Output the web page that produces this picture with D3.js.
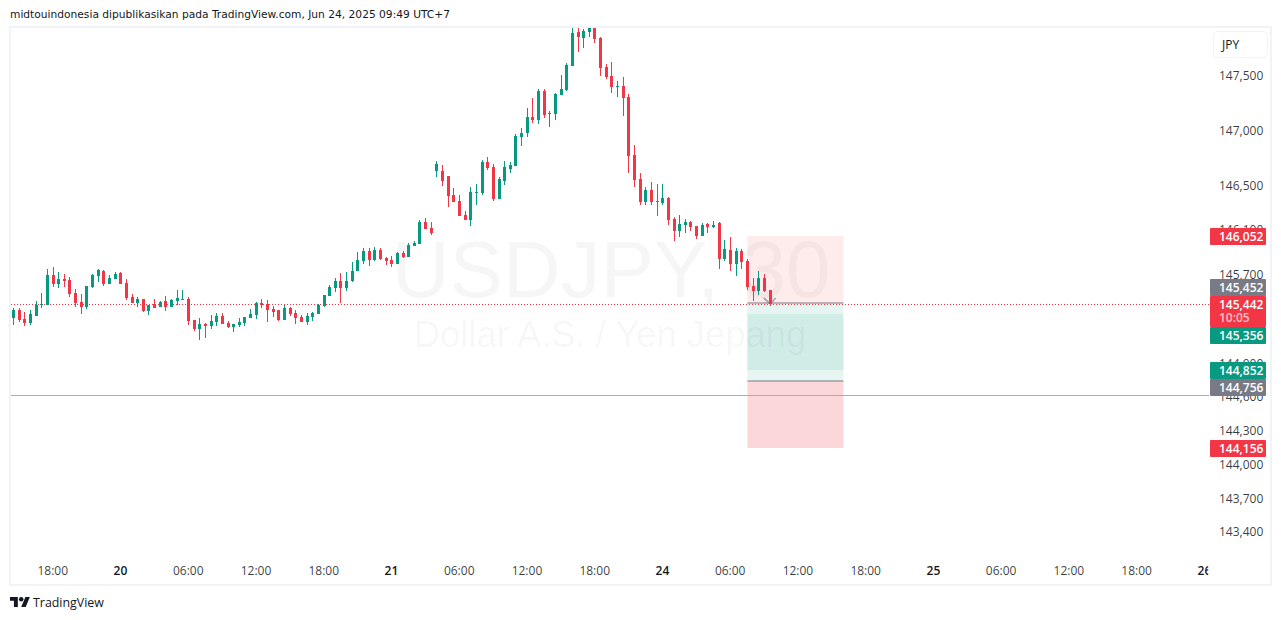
<!DOCTYPE html>
<html>
<head>
<meta charset="utf-8">
<script src="https://cdn.jsdelivr.net/npm/d3@7"></script>
<style>
  html, body { margin: 0; padding: 0; background: #fff; overflow: hidden; }
  svg { display: block; }
  text { font-family: "Open Sans", sans-serif; }
</style>
</head>
<body>
<svg id="chart" width="1281" height="620"></svg>
<script>
// bars are 30 minute candles, index 0 = Jun 19 14:30
const openP = [145322,145394,145313,145277,145340,145439,145439,145709,145628,145673,145664,145547,145466,145421,145601,145700,145745,145628,145673,145727,145637,145511,145457,145493,145385,145448,145421,145475,145421,145475,145484,145493,145304,145223,145268,145250,145286,145340,145277,145241,145259,
  145277,145322,145349,145457,145448,145403,145394,145304,145412,145367,145331,145286,145331,145358,145430,145520,145592,145655,145592,145655,145745,145835,145925,145844,145934,145862,145844,145808,145907,145871,145970,145988,146186,146132,
  146645,146645,146600,146429,146375,146249,146204,146447,146447,146726,146681,146393,146555,146663,146690,146951,146987,147131,147104,147374,147158,147158,147329,147383,147599,147905,147851,147905,147941,147851,147590,147509,147410,147419,147311,146789,146573,146366,146474,146375,146357,146402,146213,146105,146159,146186,146150,146060,146168,146141,146177,145853,145934,145808,145925,145835,145610,145565,145682,145574];
const highP = [145412,145412,145376,145394,145475,145547,145763,145781,145736,145718,145691,145583,145538,145610,145718,145763,145754,145709,145736,145736,145673,145538,145511,145493,145439,145493,145475,145520,145493,145574,145574,145511,145304,145322,145277,145349,145367,145367,145295,145268,145322,
  145331,145403,145466,145493,145484,145430,145394,145439,145421,145394,145349,145367,145376,145448,145529,145619,145682,145727,145736,145826,145916,145952,145952,145961,145952,145871,145880,145916,145925,145997,146015,146204,146222,146186,
  146735,146699,146600,146492,146429,146285,146501,146528,146744,146771,146708,146591,146735,146726,146978,147032,147212,147302,147392,147392,147185,147356,147518,147626,147941,147941,147932,147941,147941,147860,147617,147635,147464,147500,147338,146879,146627,146501,146546,146528,146528,146411,146231,146249,146213,146195,146150,146177,146177,146195,146186,146024,146051,145952,145943,145853,145682,145745,145718,145574];
const lowP = [145259,145286,145250,145259,145340,145412,145439,145601,145592,145601,145511,145421,145358,145403,145592,145646,145610,145628,145673,145628,145484,145457,145421,145376,145349,145412,145421,145385,145421,145439,145484,145259,145205,145124,145142,145223,145250,145268,145232,145196,145241,
  145250,145322,145313,145412,145286,145331,145295,145304,145340,145268,145286,145259,145295,145358,145421,145520,145556,145457,145565,145646,145745,145808,145790,145835,145844,145799,145781,145808,145862,145871,145970,145988,146123,146069,
  146591,146510,146321,146366,146240,146204,146150,146339,146429,146654,146375,146393,146519,146627,146690,146870,146951,147077,147068,147122,147041,147104,147329,147374,147599,147725,147761,147860,147806,147509,147482,147356,147311,147140,146627,146501,146339,146339,146339,146240,146339,146159,146015,146051,146087,146105,146033,146060,146087,146132,145763,145835,145745,145700,145763,145574,145475,145529,145556,145430];
const closeP = [145394,145304,145277,145358,145439,145448,145709,145628,145673,145655,145538,145457,145421,145610,145709,145754,145628,145682,145718,145628,145502,145457,145493,145385,145439,145412,145466,145421,145484,145502,145493,145295,145223,145268,145250,145295,145340,145268,145241,145268,145286,
  145331,145358,145457,145439,145394,145376,145304,145412,145358,145322,145286,145340,145367,145439,145529,145601,145655,145592,145655,145745,145844,145925,145844,145934,145853,145835,145808,145907,145871,145979,145997,146186,146123,146087,
  146708,146555,146420,146366,146240,146204,146456,146456,146726,146672,146393,146573,146681,146699,146960,146987,147131,147104,147374,147149,147167,147338,147392,147608,147896,147860,147914,147941,147842,147581,147500,147410,147419,147302,146780,146564,146366,146474,146366,146366,146402,146204,146105,146168,146186,146141,146060,146159,146141,146159,145853,145943,145808,145925,145826,145601,145565,145682,145565,145442];

const timeTickBars = [7,19,31,43,55,67,79,91,103,115,127,139,151,163,175,187,199,211];
const timeTickLabels = ['18:00','20','06:00','12:00','18:00','21','06:00','12:00','18:00','24','06:00','12:00','18:00','25','06:00','12:00','18:00','26'];
const priceTicks = [147500,147000,146500,146100,145700,145300,144900,144600,144300,144000,143700,143400];

// short position first, then the long one underneath it
const shortPos = {entry: 145452, stop: 146052, target: 144852};
const longPos = {entry: 144756, stop: 144156, target: 145356};
const positionBars = [130, 147];
const lastPrice = 145442;
const lastCountdown = '10:05';
const alertPrice = 144628; // the orange horizontal line

const RED = '#f23645', GREEN = '#089981', GRAY = '#787b86', TXT = '#131722';
const svg = d3.select('#chart');

const x = d3.scaleLinear().domain([0, 134]).range([13.5, 770]);
const yScale = d3.scaleLog().domain([147500, 143400]).range([76.7, 533.2]); // log price scale, ticks fit it better than linear
const y = p => Math.round(yScale(p)); // keep everything on whole pixels like the real canvas

// frame
svg.append('rect').attr('x', 10).attr('y', 27).attr('width', 1261).attr('height', 558)
  .attr('fill', 'none').attr('stroke', '#f0f3fa').attr('stroke-width', 2);

const defs = svg.append('defs');
defs.append('clipPath').attr('id', 'plotClip').append('rect')
  .attr('x', 11).attr('y', 28).attr('width', 1198).attr('height', 556);

const plot = svg.append('g').attr('clip-path', 'url(#plotClip)');

// watermark
plot.append('text').attr('x', 611).attr('y', 297).attr('text-anchor', 'middle')
  .style('font-family', '"Liberation Sans", Arial, sans-serif').style('font-size', '80px')
  .attr('fill', '#131722').attr('fill-opacity', 0.04).text('USDJPY, 30');
plot.append('text').attr('x', 610).attr('y', 347).attr('text-anchor', 'middle')
  .style('font-family', '"Liberation Sans", Arial, sans-serif').style('font-size', '36.4px')
  .attr('fill', '#131722').attr('fill-opacity', 0.04).text('Dollar A.S. / Yen Jepang');

// position tools
function zone(a, b, color, op) {
  plot.append('rect').attr('x', x(positionBars[0])).attr('width', x(positionBars[1]) - x(positionBars[0]))
    .attr('y', y(a)).attr('height', y(b) - y(a)).attr('fill', color).attr('fill-opacity', op);
}
zone(shortPos.stop, shortPos.entry, RED, 0.1);
zone(shortPos.entry, shortPos.target, GREEN, 0.1);
zone(longPos.target, longPos.entry, GREEN, 0.1);
zone(longPos.entry, longPos.stop, RED, 0.2);
[shortPos.entry, longPos.entry].forEach(p => {
  plot.append('line').attr('x1', x(positionBars[0])).attr('x2', x(positionBars[1]))
    .attr('y1', y(p)).attr('y2', y(p)).attr('stroke', GRAY).attr('stroke-width', 1.2);
});

// alert line
plot.append('line').attr('x1', 11).attr('x2', 1209).attr('y1', y(alertPrice) + 0.5).attr('y2', y(alertPrice) + 0.5)
  .attr('stroke', '#f7a21b').attr('stroke-width', 1);

// last price line
plot.append('line').attr('x1', 11).attr('x2', 1209).attr('y1', y(lastPrice) + 0.5).attr('y2', y(lastPrice) + 0.5)
  .attr('stroke', RED).attr('stroke-width', 1).attr('stroke-dasharray', '1 2');

// arrow on the last bar, sits behind the candle
const arrowLine = d3.line().x(d => x(d[0])).y(d => y(d[1]));
plot.append('path').attr('d', arrowLine([[132.9, 145495], [134.05, 145445], [135, 145495]]))
  .attr('fill', 'none').attr('stroke', GRAY).attr('stroke-opacity', 0.6).attr('stroke-width', 1.8);

// candles
const candles = plot.selectAll('.candle').data(closeP).enter().append('g').classed('candle', true);
const candleColor = i => closeP[i] >= openP[i] ? GREEN : RED;
candles.append('line')
  .attr('x1', (d, i) => Math.floor(x(i)) + 0.5).attr('x2', (d, i) => Math.floor(x(i)) + 0.5)
  .attr('y1', (d, i) => y(highP[i])).attr('y2', (d, i) => y(lowP[i]))
  .attr('stroke', (d, i) => candleColor(i)).attr('stroke-width', 1);
candles.append('rect')
  .attr('x', (d, i) => Math.floor(x(i)) - 1).attr('width', 3)
  .attr('y', (d, i) => y(Math.max(openP[i], closeP[i])))
  .attr('height', (d, i) => Math.max(1, Math.abs(y(openP[i]) - y(closeP[i]))))
  .attr('fill', (d, i) => candleColor(i));

// price axis
const priceAxis = svg.append('g').attr('transform', 'translate(1212,-1.2)')
  .call(d3.axisRight(yScale).tickValues(priceTicks).tickSize(0).tickPadding(7).tickFormat(d3.format(',')));
priceAxis.select('.domain').remove();
priceAxis.selectAll('text').style('font-size', '12px').attr('fill', TXT).attr('fill-opacity', 0.85);

// time axis
const timeAxis = svg.append('g').attr('transform', 'translate(-0.8,563)').attr('clip-path', 'url(#timeClip)')
  .call(d3.axisBottom(x).tickValues(timeTickBars).tickSize(0).tickPadding(3).tickFormat((d, i) => timeTickLabels[i]));
defs.append('clipPath').attr('id', 'timeClip').append('rect')
  .attr('x', 11).attr('y', -10).attr('width', 1198).attr('height', 40);
timeAxis.select('.domain').remove();
timeAxis.selectAll('text').style('font-size', '12px').attr('fill', TXT)
  .attr('fill-opacity', (d, i) => timeTickLabels[i].length === 2 ? 1 : 0.85)
  .style('font-weight', (d, i) => timeTickLabels[i].length === 2 ? 600 : 400);

// price labels, pushed apart around the last price as the real axis does
const labelH = 17;
const labels = [
  {v: shortPos.stop, c: RED}, {v: shortPos.entry, c: GRAY}, {v: longPos.target, c: GREEN},
  {v: shortPos.target, c: GREEN}, {v: longPos.entry, c: GRAY}, {v: longPos.stop, c: RED}
];
labels.forEach(l => { l.top = Math.round(yScale(l.v) - labelH / 2); });
const lastTop = Math.round(yScale(lastPrice) - 8.5), lastBottom = lastTop + 31;
labels.filter(l => l.v > lastPrice).forEach(l => { l.top = Math.min(l.top, lastTop - labelH); });
let floor = lastBottom;
labels.filter(l => l.v < lastPrice).forEach(l => {
  l.top = Math.max(l.top, floor);
  floor = l.top + labelH;
});
const labelG = svg.append('g');
labels.forEach(l => {
  labelG.append('rect').attr('x', 1210).attr('y', l.top).attr('width', 56).attr('height', labelH)
    .attr('rx', 1).attr('fill', l.c);
  labelG.append('text').attr('x', 1219).attr('y', l.top + 13).attr('fill', '#fff')
    .style('font-size', '12px').style('font-weight', 600).text(d3.format(',')(l.v));
});
labelG.append('rect').attr('x', 1210).attr('y', lastTop).attr('width', 56).attr('height', 31).attr('rx', 1).attr('fill', RED);
labelG.append('text').attr('x', 1219).attr('y', lastTop + 13).attr('fill', '#fff')
  .style('font-size', '12px').style('font-weight', 600).text(d3.format(',')(lastPrice));
labelG.append('text').attr('x', 1219).attr('y', lastTop + 26).attr('fill', '#fff').attr('fill-opacity', 0.7)
  .style('font-size', '12px').style('font-weight', 600).text(lastCountdown);

// currency box
svg.append('rect').attr('x', 1213.5).attr('y', 31.5).attr('width', 54).attr('height', 26).attr('rx', 4)
  .attr('fill', '#fff').attr('stroke', '#f0f3fa');
svg.append('text').attr('x', 1222).attr('y', 49).attr('fill', TXT).style('font-size', '12px').text('JPY');

// header and footer
svg.append('text').attr('x', 10).attr('y', 18).attr('fill', TXT)
  .style('font-family', '"DejaVu Sans", sans-serif').style('font-size', '10.67px')
  .text('midtouindonesia dipublikasikan pada TradingView.com, Jun 24, 2025 09:49 UTC+7');
const logo = svg.append('g').attr('transform', 'translate(10,593) scale(0.56)');
logo.append('path').attr('d', 'M14 25H7V14H0V7h14v18zM28 25h-8l7.5-18h8L28 25z').attr('fill', '#131722');
logo.append('circle').attr('cx', 20).attr('cy', 11).attr('r', 4).attr('fill', '#131722');
svg.append('text').attr('x', 33).attr('y', 607).attr('fill', '#131722')
  .style('font-size', '12.4px').text('TradingView');
</script>
</body>
</html>
